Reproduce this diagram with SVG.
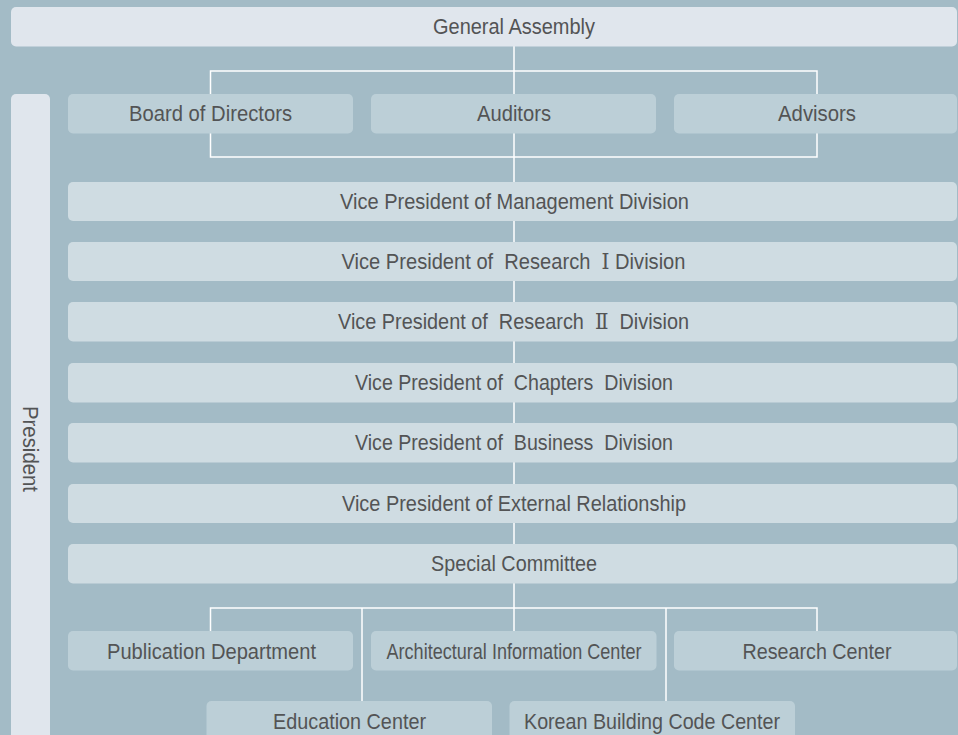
<svg xmlns="http://www.w3.org/2000/svg" width="958" height="735" viewBox="0 0 958 735">
<style>
.bg{fill:#a3bbc6}
.top{fill:#e0e6ed}
.mid{fill:#bccfd7}
.vp{fill:#cfdce2}
.t{font-family:"Liberation Sans","Noto Sans",sans-serif;font-size:22.5px;fill:#535455;text-anchor:middle;white-space:pre}
.rn{font-family:"Liberation Sans","DejaVu Serif","Liberation Serif","Noto Sans CJK KR",serif}
.ln{stroke:#ffffff;stroke-width:1.5;fill:none}
</style>
<rect class="bg" x="0" y="0" width="958" height="735"/>
<g id="connectors">
<line class="ln" x1="514" y1="46" x2="514" y2="632"/>
<rect class="ln" x="210.5" y="71" width="606.5" height="86"/>
<polyline class="ln" points="210.5,632 210.5,608 817,608 817,632"/>
<line class="ln" x1="362" y1="608" x2="362" y2="702"/>
<line class="ln" x1="666" y1="608" x2="666" y2="702"/>
</g>
<g id="general-assembly"><rect class="top" x="11" y="7" width="946" height="39.5" rx="5"/><text class="t" x="514" y="34" textLength="162" lengthAdjust="spacingAndGlyphs">General Assembly</text></g>
<g id="president"><rect class="top" x="11" y="94" width="39" height="660" rx="5"/><text class="t" transform="translate(23,449) rotate(90)" x="0" y="0" textLength="86" lengthAdjust="spacingAndGlyphs">President</text></g>
<g id="board"><rect class="mid" x="68" y="94" width="285" height="39.5" rx="5"/><text class="t" x="210.5" y="121" textLength="163" lengthAdjust="spacingAndGlyphs">Board of Directors</text></g>
<g id="auditors"><rect class="mid" x="371" y="94" width="285" height="39.5" rx="5"/><text class="t" x="514" y="121" textLength="74" lengthAdjust="spacingAndGlyphs">Auditors</text></g>
<g id="advisors"><rect class="mid" x="674" y="94" width="283" height="39.5" rx="5"/><text class="t" x="817" y="121" textLength="78" lengthAdjust="spacingAndGlyphs">Advisors</text></g>
<g id="vp-management"><rect class="vp" x="68" y="182" width="889" height="39" rx="5"/><text class="t" x="514.5" y="208.5" textLength="349" lengthAdjust="spacingAndGlyphs">Vice President of Management Division</text></g>
<g id="vp-research1"><rect class="vp" x="68" y="242" width="889" height="39" rx="5"/><text class="t rn" x="513.5" y="268.5" textLength="344" lengthAdjust="spacingAndGlyphs">Vice President of  Research  Ⅰ Division</text></g>
<g id="vp-research2"><rect class="vp" x="68" y="302" width="889" height="39.5" rx="5"/><text class="t rn" x="513.5" y="329" textLength="351" lengthAdjust="spacingAndGlyphs">Vice President of  Research  Ⅱ  Division</text></g>
<g id="vp-chapters"><rect class="vp" x="68" y="363" width="889" height="39.5" rx="5"/><text class="t" x="514" y="389.5" textLength="318" lengthAdjust="spacingAndGlyphs">Vice President of  Chapters  Division</text></g>
<g id="vp-business"><rect class="vp" x="68" y="423" width="889" height="39.5" rx="5"/><text class="t" x="514" y="449.5" textLength="318" lengthAdjust="spacingAndGlyphs">Vice President of  Business  Division</text></g>
<g id="vp-external"><rect class="vp" x="68" y="484" width="889" height="39" rx="5"/><text class="t" x="514" y="510.5" textLength="344" lengthAdjust="spacingAndGlyphs">Vice President of External Relationship</text></g>
<g id="special-committee"><rect class="vp" x="68" y="544" width="889" height="39.5" rx="5"/><text class="t" x="514" y="571" textLength="166" lengthAdjust="spacingAndGlyphs">Special Committee</text></g>
<g id="publication"><rect class="mid" x="68" y="631" width="285" height="39.5" rx="5"/><text class="t" x="211.5" y="659" textLength="209" lengthAdjust="spacingAndGlyphs">Publication Department</text></g>
<g id="arch-info"><rect class="mid" x="371" y="631" width="285.5" height="39.5" rx="5"/><text class="t" x="514" y="659" textLength="255" lengthAdjust="spacingAndGlyphs">Architectural Information Center</text></g>
<g id="research-center"><rect class="mid" x="674" y="631" width="283" height="39.5" rx="5"/><text class="t" x="817" y="659" textLength="149" lengthAdjust="spacingAndGlyphs">Research Center</text></g>
<g id="education"><rect class="mid" x="206.5" y="701" width="285.5" height="45" rx="5"/><text class="t" x="349.5" y="728.5" textLength="153" lengthAdjust="spacingAndGlyphs">Education Center</text></g>
<g id="kbcc"><rect class="mid" x="509.5" y="701" width="285.5" height="45" rx="5"/><text class="t" x="652" y="728.5" textLength="256" lengthAdjust="spacingAndGlyphs">Korean Building Code Center</text></g>
</svg>
